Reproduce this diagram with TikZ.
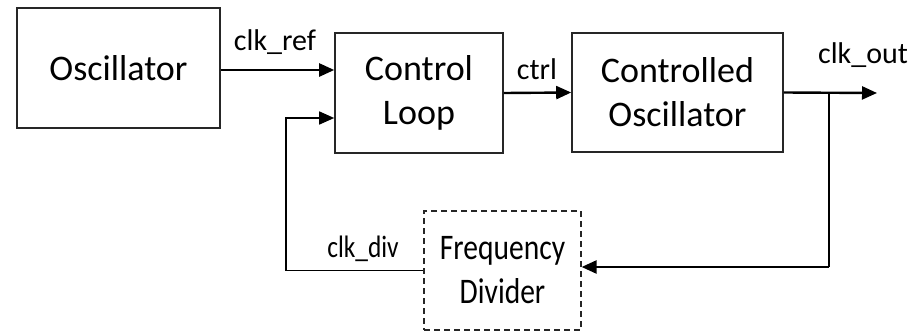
\documentclass[tikz,border=0pt]{standalone}
\usepackage{fontspec}
\setmainfont{Carlito}
\newfontfamily\narrowfont[FakeStretch=0.82]{Carlito}
\usetikzlibrary{arrows.meta,calc}

\tikzset{
  block/.style={draw=black!85, line width=1.6pt, inner sep=0pt,
    align=center, font=\fontsize{36}{44}\selectfont},
  dashblock/.style={block, line width=1.2pt, dash pattern=on 6pt off 4pt,
    font=\narrowfont\fontsize{36}{44}\selectfont},
  sig/.style={line width=2.4pt, -{Triangle[length=15pt,width=13pt]}},
  thinsig/.style={line width=1.5pt, -{Triangle[length=15pt,width=13pt]}},
  wire/.style={line width=1.5pt},
  lbl/.style={font=\fontsize{30}{36}\selectfont, anchor=base, inner sep=0pt},
  narrowlbl/.style={lbl, font=\narrowfont\fontsize{31}{36}\selectfont}
}

\begin{document}
\begin{tikzpicture}[x=1pt, y=-1pt]
  \useasboundingbox (0,0) rectangle (917,332);

  % blocks
  \node[block, minimum width=203pt, minimum height=120pt] (osc) at (118.5,68) {Oscillator};
  \node[block, minimum width=168pt, minimum height=120pt] (cl) at (419,93) {Control\\Loop};
  \node[block, minimum width=211pt, minimum height=119pt] (co) at (677.5,92.5) {Controlled\\Oscillator};
  \node[dashblock, minimum width=157pt, minimum height=119pt] (fd) at (502.5,270.5) {Frequency\\Divider};

  % helper points
  \coordinate (yref) at (0,70);
  \coordinate (fb) at (286,118);
  \coordinate (out) at (877,93);
  \coordinate (br) at (829,93);
  \coordinate (ydiv) at (0,267);

  % forward path
  \draw[sig] (osc.east |- yref) -- (cl.west |- yref);
  \draw[sig] (cl.east) -- (co.west);
  \draw[sig] (co.east) -- (out);

  % feedback path
  \draw[wire] (br) -- (br |- ydiv);
  \draw[sig] (br |- ydiv) -- (fd.east |- ydiv);
  \draw[thinsig] (fd.west) -| (fb) -- (cl.west |- fb);

  % signal labels
  \node[lbl] (lref) at (275,50) {clk\_ref};
  \node[lbl] (lctrl) at (537,79) {ctrl};
  \node[lbl] (lout) at (863,63) {clk\_out};
  \node[narrowlbl] (ldiv) at (363,257) {clk\_div};
\end{tikzpicture}
\end{document}
